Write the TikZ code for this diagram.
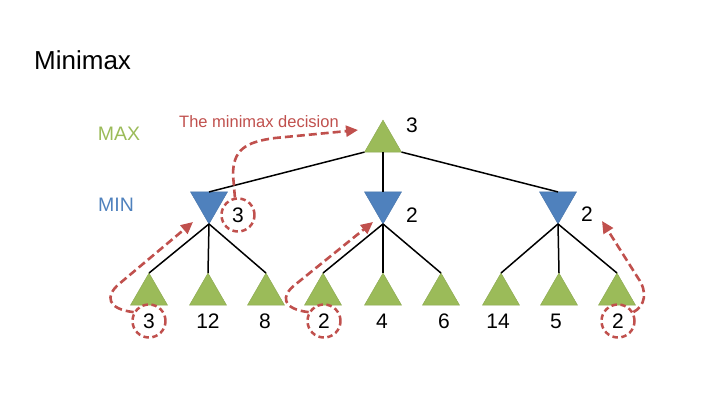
\documentclass[tikz,border=0pt]{standalone}
\usepackage{fontspec}
\setmainfont{Liberation Sans}
\usetikzlibrary{shapes.geometric,arrows.meta}
\definecolor{maxgreen}{HTML}{9BBB59}
\definecolor{minblue}{HTML}{4F81BD}
\definecolor{pickred}{HTML}{C0504D}

\begin{document}
\begin{tikzpicture}[x=1pt, y=-1pt,
  maxnode/.style={regular polygon, regular polygon sides=3, minimum size=42.7pt, inner sep=0pt, outer sep=0pt, fill=maxgreen, draw=maxgreen!90!black, line width=0.4pt},
  minnode/.style={maxnode, shape border rotate=180, fill=minblue, draw=minblue!90!black},
  branch/.style={line width=1.5pt, black},
  val/.style={font=\fontsize{21}{25}\selectfont, inner sep=0pt},
  picked/.style={val, circle, draw=pickred, line width=2.5pt, dash pattern=on 5.5pt off 3.5pt, minimum size=33pt},
  backup/.style={draw=pickred, line width=2.6pt, dash pattern=on 8pt off 4pt, -{Triangle[length=12pt,width=11pt]}},
  level/.style={font=\fontsize{19.5}{23}\selectfont, inner sep=0pt},
]
\useasboundingbox (0,0) rectangle (720,405);

% === Title and level labels ===
\node[anchor=base west, font=\fontsize{26}{31}\selectfont, inner sep=0pt] (title) at (34,69) {Minimax};
\node[level, text=maxgreen] (maxlbl) at (119,134) {MAX};
\node[level, text=minblue] (minlbl) at (116,205) {MIN};
\node[font=\fontsize{16.5}{20}\selectfont, text=pickred, inner sep=0pt] (decision) at (259,122) {The minimax decision};

% === MAX root ===
\node[maxnode] (root) at (383,141.4) {};
\node[val] (rootval) at (412,125) {3};

% === MIN level ===
\node[minnode] (m1) at (209,202.6) {};
\node[minnode] (m2) at (383,202.6) {};
\node[minnode] (m3) at (558,202.6) {};
\node[picked] (m1val) at (238,215) {3};
\node[val] (m2val) at (412,215) {2};
\node[val] (m3val) at (587,214) {2};

% === Leaves ===
\node[maxnode] (l1) at (149,294.4) {};
\node[maxnode] (l2) at (208,294.4) {};
\node[maxnode] (l3) at (266,294.4) {};
\node[maxnode] (l4) at (323,294.4) {};
\node[maxnode] (l5) at (383,294.4) {};
\node[maxnode] (l6) at (441,294.4) {};
\node[maxnode] (l7) at (501,294.4) {};
\node[maxnode] (l8) at (559,294.4) {};
\node[maxnode] (l9) at (617,294.4) {};

\node[picked] (l1val) at (149,321) {3};
\node[val] (l2val) at (208,321) {12};
\node[val] (l3val) at (265,321) {8};
\node[picked] (l4val) at (324,321) {2};
\node[val] (l5val) at (382,321) {4};
\node[val] (l6val) at (444,321) {6};
\node[val] (l7val) at (498,321) {14};
\node[val] (l8val) at (556,321) {5};
\node[picked] (l9val) at (618,321) {2};

% === Branches ===
\draw[branch] (root.corner 2) -- (m1.side 2);
\draw[branch] (root.side 2) -- (m2.side 2);
\draw[branch] (root.corner 3) -- (m3.side 2);

\draw[branch] (m1.corner 1) -- (l1.corner 1);
\draw[branch] (m1.corner 1) -- (l2.corner 1);
\draw[branch] (m1.corner 1) -- (l3.corner 1);
\draw[branch] (m2.corner 1) -- (l4.corner 1);
\draw[branch] (m2.corner 1) -- (l5.corner 1);
\draw[branch] (m2.corner 1) -- (l6.corner 1);
\draw[branch] (m3.corner 1) -- (l7.corner 1);
\draw[branch] (m3.corner 1) -- (l8.corner 1);
\draw[branch] (m3.corner 1) -- (l9.corner 1);

% === Backed-up values ===
\coordinate (rootin) at (358,130);
\coordinate (m1in) at (193,222);
\coordinate (m2in) at (373,222);
\coordinate (m3in) at (602,221);

\draw[backup] (m1val.100) -- (233,175) .. controls (233,150) and (245,142) .. (275,138) -- (rootin);
\draw[backup] (l1val.150) .. controls (107,309) and (105,296) .. (119,284) -- (m1in);
\draw[backup] (l4val.150) .. controls (282,309) and (280,296) .. (296,284) -- (m2in);
\draw[backup] (l9val.30) .. controls (645,306) and (648,292) .. (638,278) -- (m3in);

\end{tikzpicture}
\end{document}
